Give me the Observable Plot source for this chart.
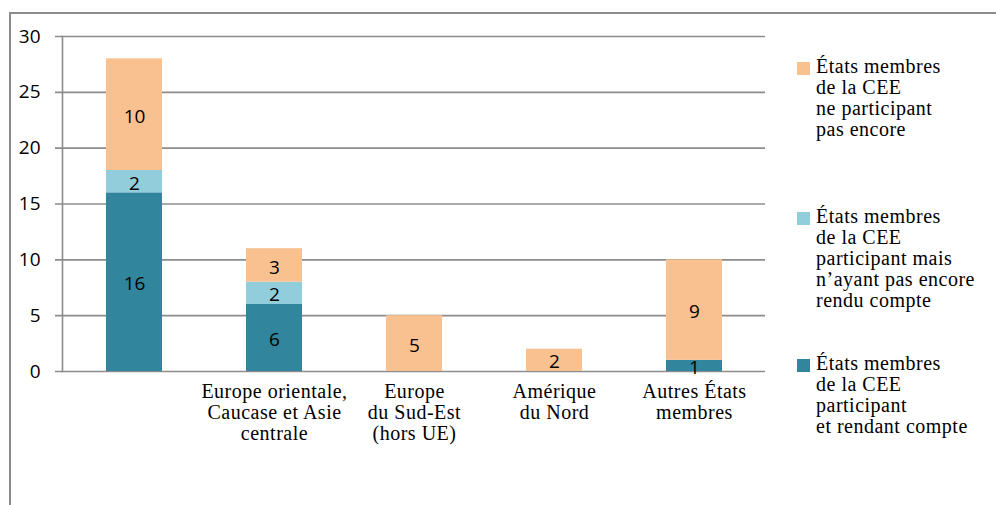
<!DOCTYPE html>
<html><head><meta charset="utf-8">
<script src="https://cdn.jsdelivr.net/npm/d3@7"></script>
<script src="https://cdn.jsdelivr.net/npm/@observablehq/plot@0.6"></script>
<style>
body{margin:0;background:#fff;}
#wrap{position:relative;width:996px;height:505px;overflow:hidden;background:#fff;}
#wrap svg{position:absolute;left:0;top:0;background:transparent !important;}
#frame{position:absolute;z-index:2;left:9px;top:12px;right:-4px;bottom:-4px;border-top:2px solid #8c8c8c;border-left:2px solid #8c8c8c;pointer-events:none;}
#legend{position:absolute;z-index:3;left:797px;top:0;font-family:"Liberation Serif","Times New Roman",serif;font-size:20px;line-height:21px;letter-spacing:0.5px;color:#000;}
.item{position:absolute;left:0;white-space:nowrap;}
.sw{position:absolute;left:0;width:13px;height:13px;}
.tx{position:absolute;left:19px;top:0;}
.xlab text{letter-spacing:0.5px;}
</style></head>
<body><div id="wrap"><div id="frame"></div><div id="legend"></div></div>
<script>
const categories = ["", "Europe orientale,\nCaucase et Asie\ncentrale", "Europe\ndu Sud-Est\n(hors UE)", "Amérique\ndu Nord", "Autres États\nmembres"];
const seriesNames = [
  "États membres\nde la CEE\nparticipant\net rendant compte",
  "États membres\nde la CEE\nparticipant mais\nn’ayant pas encore\nrendu compte",
  "États membres\nde la CEE\nne participant\npas encore"
];
const reporting = [16, 6, 0, 0, 1];
const notReported = [2, 2, 0, 0, 0];
const notParticipating = [10, 3, 5, 2, 9];
const colors = ["#31859c", "#92cddc", "#f9c090"];
const yTicks = [0, 5, 10, 15, 20, 25, 30];

const seriesValues = [reporting, notReported, notParticipating];
const data = [];
categories.forEach((c, i) => {
  seriesValues.forEach((vals, s) => data.push({category: c, series: seriesNames[s], value: vals[i]}));
});

const serif = "'Liberation Serif', 'Times New Roman', serif";
const sans = "'Open Sans', sans-serif";

const chart = Plot.plot({
  width: 996, height: 505,
  marginLeft: 62, marginRight: 231, marginTop: 36, marginBottom: 134,
  style: {background: "transparent", overflow: "visible"},
  x: {domain: categories, paddingInner: 0.6, paddingOuter: 0.3},
  y: {domain: [0, 30]},
  color: {domain: seriesNames, range: colors},
  marks: [
    Plot.ruleY(yTicks, {stroke: "#8c8c8c", strokeWidth: 1.6, insetLeft: -7}),
    Plot.axisY({ticks: yTicks, tickSize: 0, tickPadding: 22, fontSize: 19, fontFamily: sans, fill: "#000", label: null}),
    Plot.axisX({tickSize: 0, tickPadding: 12, fontSize: 20, fontFamily: serif, fill: "#000", lineHeight: 1.05, label: null, className: "xlab"}),
    Plot.barY(data, Plot.stackY({x: "category", y: "value", fill: "series", order: null, filter: d => d.value > 0})),
    Plot.frame({anchor: "left", stroke: "#8c8c8c", strokeWidth: 1.6}),
    Plot.text(data, Plot.stackY({x: "category", y: "value", z: "series", order: null, text: d => String(d.value), filter: d => d.value > 0, fontSize: 19, fontFamily: sans, fill: "#000", dy: 2}))
  ]
});
document.getElementById("wrap").insertBefore(chart, document.getElementById("frame"));

const legendTops = [56, 206, 353];
const legendOrder = [2, 1, 0];
const leg = document.getElementById("legend");
legendOrder.forEach((s, k) => {
  const it = document.createElement("div");
  it.className = "item";
  it.style.top = legendTops[k] + "px";
  const sw = document.createElement("div");
  sw.className = "sw"; sw.style.background = colors[s]; sw.style.top = "6px";
  const tx = document.createElement("div");
  tx.className = "tx"; tx.innerHTML = seriesNames[s].split("\n").join("<br>");
  it.appendChild(sw); it.appendChild(tx); leg.appendChild(it);
});
</script></body></html>
